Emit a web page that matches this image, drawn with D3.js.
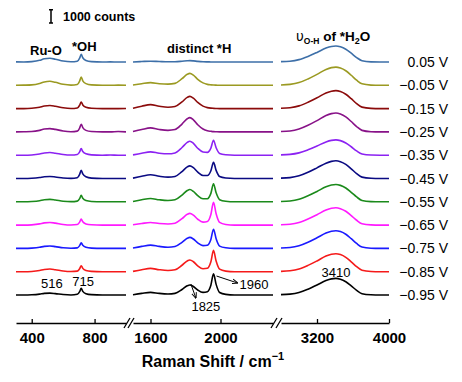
<!DOCTYPE html>
<html>
  <head>
    <meta charset="utf-8">
    <title>Raman spectra vs potential</title>
    <script src="https://cdn.jsdelivr.net/npm/d3@7"></script>
    <style>
      body { margin: 0; background: #fff; }
      svg text { font-family: "Liberation Sans", Arial, sans-serif; fill: #000; }
      .tick text { font-size: 15px; font-weight: bold; }
      .bold { font-weight: bold; }
    </style>
  </head>
  <body>
    <div id="chart"></div>
    <script>
      // potentials, top to bottom
      var voltages = ["0.05 V", "\u22120.05 V", "\u22120.15 V", "\u22120.25 V", "\u22120.35 V",
        "\u22120.45 V", "\u22120.55 V", "\u22120.65 V", "\u22120.75 V", "\u22120.85 V", "\u22120.95 V"];

      // wavenumbers (cm-1) sampled in each axis segment
      var wnLow = [300, 350, 400, 450, 480, 516, 550, 600, 650, 690, 705, 715, 725, 745, 780, 850, 900, 950, 1000];
      var wnMid = [1500, 1550, 1600, 1650, 1700, 1740, 1780, 1810, 1825, 1845, 1870, 1900, 1925, 1945, 1960, 1975, 1995, 2030, 2080, 2150, 2225, 2300];
      var wnHigh = [2800, 2900, 3000, 3100, 3200, 3300, 3360, 3410, 3460, 3520, 3580, 3640, 3700, 3800, 3900, 4000];

      // intensities above each trace's baseline (counts), one row per potential
      var lowCounts = [
        [10, 0, 30, 125, 240, 280, 210, 70, 15, 60, 290, 580, 320, 115, 30, 0, 10, 0, 0],
        [0, 10, 30, 135, 255, 300, 225, 75, 15, 60, 310, 620, 340, 125, 30, 0, 0, 10, 0],
        [0, 0, 25, 105, 195, 230, 175, 60, 10, 50, 250, 500, 275, 100, 25, 0, 0, 0, 10],
        [0, 10, 25, 115, 215, 250, 190, 65, 15, 60, 290, 580, 320, 115, 30, 0, 0, 30, 0],
        [0, 0, 20, 90, 170, 200, 150, 50, 10, 50, 250, 500, 275, 100, 25, 0, 10, 0, 0],
        [0, 0, 15, 70, 130, 150, 115, 40, 10, 60, 310, 620, 340, 125, 30, 0, 0, 0, 0],
        [0, 0, 20, 80, 155, 180, 135, 45, 10, 50, 240, 480, 265, 95, 25, 0, 0, 0, 0],
        [0, 0, 20, 90, 170, 200, 150, 50, 10, 45, 225, 450, 250, 90, 25, 0, 0, 0, 0],
        [0, 0, 20, 80, 155, 180, 135, 45, 10, 40, 210, 420, 230, 85, 20, 0, 0, 0, 0],
        [0, 0, 20, 90, 170, 200, 150, 50, 10, 45, 225, 450, 250, 90, 25, 0, 0, 0, 0],
        [0, 0, 15, 65, 120, 140, 105, 35, 5, 50, 250, 500, 275, 100, 25, 0, 0, 0, 0]
      ];
      var midCounts = [
        [5, 35, 60, 35, 15, 20, 55, 90, 100, 85, 50, 20, 10, 5, 0, 0, 0, 0, 0, 0, 0, 0],
        [20, 120, 200, 120, 85, 145, 495, 830, 900, 765, 450, 180, 70, 35, 20, 10, 0, 0, 0, 0, 0, 0],
        [30, 180, 300, 180, 105, 155, 505, 845, 920, 780, 460, 185, 75, 35, 20, 10, 0, 0, 0, 0, 0, 0],
        [30, 180, 300, 180, 115, 175, 590, 985, 1070, 910, 535, 215, 85, 45, 20, 10, 0, 0, 0, 0, 0, 0],
        [25, 150, 250, 150, 105, 170, 580, 965, 1050, 895, 525, 245, 215, 535, 1120, 560, 130, 35, 0, 0, 0, 0],
        [30, 170, 280, 170, 105, 155, 525, 875, 950, 810, 475, 225, 220, 580, 1220, 610, 145, 35, 0, 0, 0, 0],
        [25, 150, 250, 150, 95, 150, 505, 845, 920, 780, 460, 225, 235, 635, 1350, 675, 160, 40, 0, 0, 0, 0],
        [20, 120, 200, 120, 85, 140, 485, 810, 880, 750, 440, 225, 275, 800, 1720, 860, 205, 50, 0, 0, 0, 0],
        [25, 150, 250, 150, 90, 140, 455, 765, 830, 705, 415, 210, 240, 675, 1445, 725, 170, 45, 0, 0, 0, 0],
        [25, 150, 250, 150, 95, 145, 485, 810, 880, 750, 440, 225, 260, 745, 1600, 800, 190, 45, 0, 0, 0, 0],
        [20, 120, 200, 120, 80, 125, 415, 690, 750, 640, 375, 195, 250, 740, 1595, 800, 190, 45, 0, 0, 0, 0]
      ];
      var highCounts = [
        [25, 60, 180, 420, 720, 1045, 1165, 1200, 1140, 960, 660, 335, 95, 10, 0, 0],
        [25, 70, 205, 480, 820, 1190, 1330, 1370, 1300, 1095, 755, 385, 110, 15, 0, 0],
        [25, 70, 205, 475, 810, 1175, 1310, 1350, 1285, 1080, 745, 380, 110, 15, 0, 0],
        [30, 70, 215, 495, 850, 1235, 1375, 1420, 1350, 1135, 780, 400, 115, 15, 0, 0],
        [25, 60, 175, 405, 690, 1000, 1115, 1150, 1095, 920, 635, 320, 90, 10, 0, 0],
        [25, 65, 200, 465, 800, 1155, 1290, 1330, 1265, 1065, 730, 370, 105, 15, 0, 0],
        [25, 65, 195, 455, 780, 1130, 1260, 1300, 1235, 1040, 715, 365, 105, 15, 0, 0],
        [25, 65, 195, 455, 780, 1130, 1260, 1300, 1235, 1040, 715, 365, 105, 15, 0, 0],
        [25, 65, 200, 465, 800, 1155, 1290, 1330, 1265, 1065, 730, 370, 105, 15, 0, 0],
        [25, 70, 205, 475, 810, 1175, 1310, 1350, 1285, 1080, 745, 380, 110, 15, 0, 0],
        [25, 65, 190, 440, 750, 1090, 1215, 1250, 1190, 1000, 690, 350, 100, 15, 0, 0]
      ];

      var lowTicks = [400, 800];
      var midTicks = [1600, 2000];
      var highTicks = [3200, 4000];

      var colors = ["#3d6fa8", "#9b9a22", "#8b0b0b", "#881288", "#8c22f2", "#0a0a82",
        "#1b8a1b", "#ff1aff", "#1a1aff", "#f51a1a", "#000000"];

      var width = 462, height = 382, axisY = 323;

      var svg = d3.select("#chart").append("svg")
        .attr("width", width)
        .attr("height", height);

      // three broken x segments
      var xLow = d3.scaleLinear().domain([300, 1000]).range([16, 126]);
      var xMid = d3.scaleLinear().domain([1500, 2300]).range([133, 273]);
      var xHigh = d3.scaleLinear().domain([2800, 4000]).range([281, 389]);

      // baselines of the stacked traces + counts -> pixel offset
      var yBase = d3.scalePoint().domain(voltages).range([62, 295]);
      var yCount = d3.scaleLinear().domain([0, 1000]).range([0, -13.3]);
      var color = d3.scaleOrdinal().domain(voltages).range(colors);

      var segments = [
        {x: xLow, wn: wnLow, counts: lowCounts, ticks: lowTicks},
        {x: xMid, wn: wnMid, counts: midCounts, ticks: midTicks},
        {x: xHigh, wn: wnHigh, counts: highCounts, ticks: highTicks}
      ];

      segments.forEach(function(seg) {
        voltages.forEach(function(v, i) {
          var line = d3.line()
            .x(function(d, j) { return seg.x(seg.wn[j]); })
            .y(function(d) { return yBase(v) + yCount(d); })
            .curve(d3.curveMonotoneX);
          svg.append("path")
            .datum(seg.counts[i])
            .attr("d", line)
            .attr("fill", "none")
            .attr("stroke", color(v))
            .attr("stroke-width", 1.6)
            .attr("stroke-linejoin", "round");
        });

        svg.append("g")
          .attr("transform", "translate(0," + axisY + ")")
          .call(d3.axisBottom(seg.x)
            .tickValues(seg.ticks)
            .tickFormat(d3.format("d"))
            .tickSizeInner(-4)
            .tickSizeOuter(0)
            .tickPadding(9))
          .call(function(g) {
            g.select(".domain").attr("stroke-width", 1.3);
            g.selectAll(".tick line").attr("stroke-width", 1.3);
          });
      });

      // axis break marks
      [xLow.range()[1] + 1, xMid.range()[0] - 2, xMid.range()[1] + 1, xHigh.range()[0] - 2].forEach(function(bx) {
        svg.append("line")
          .attr("x1", bx - 3).attr("y1", axisY + 5)
          .attr("x2", bx + 3).attr("y2", axisY - 5)
          .attr("stroke", "#000").attr("stroke-width", 1.3);
      });

      // axis title
      var title = svg.append("text")
        .attr("class", "bold")
        .attr("x", 213).attr("y", 367)
        .attr("text-anchor", "middle")
        .style("font-size", "16px");
      title.append("tspan").text("Raman Shift / cm");
      title.append("tspan").attr("dy", -7).style("font-size", "11px").text("\u22121");

      // potential labels
      svg.selectAll(".vlabel")
        .data(voltages)
        .enter().append("text")
        .attr("x", 448)
        .attr("y", function(d) { return yBase(d); })
        .attr("dy", "0.36em")
        .attr("text-anchor", "end")
        .style("font-size", "14px")
        .text(function(d) { return d; });

      // scale bar: 1000 counts
      var barX = 51, barBottom = 23;
      var barTop = barBottom + yCount(1000);
      svg.append("path")
        .attr("d", "M" + (barX - 2) + "," + barTop + "H" + (barX + 2) +
          "M" + barX + "," + barTop + "V" + barBottom +
          "M" + (barX - 2) + "," + barBottom + "H" + (barX + 2))
        .attr("stroke", "#000").attr("stroke-width", 1.5).attr("fill", "none");
      svg.append("text").attr("class", "bold")
        .attr("x", 63).attr("y", 21)
        .style("font-size", "12.5px")
        .text("1000 counts");

      // band labels
      svg.append("text").attr("class", "bold").attr("x", 30).attr("y", 55)
        .style("font-size", "13px").text("Ru-O");
      svg.append("text").attr("class", "bold").attr("x", 72).attr("y", 51)
        .style("font-size", "13px").text("*OH");
      svg.append("text").attr("class", "bold").attr("x", 167).attr("y", 53)
        .style("font-size", "13px").text("distinct *H");
      var nu = svg.append("text").attr("class", "bold").attr("x", 296).attr("y", 41)
        .style("font-size", "13.5px");
      nu.append("tspan").style("font-family", "'DejaVu Sans', sans-serif").style("font-weight", "normal").text("\u03c5");
      nu.append("tspan").attr("dy", 3).style("font-size", "8.5px").text("O-H");
      nu.append("tspan").attr("dy", -3).text(" of *H");
      nu.append("tspan").attr("dy", 3).style("font-size", "9px").text("2");
      nu.append("tspan").attr("dy", -3).text("O");

      // peak annotations on the lowest trace
      var last = voltages[voltages.length - 1];
      svg.append("defs").append("marker")
        .attr("id", "arrow")
        .attr("viewBox", "0 0 10 10")
        .attr("refX", 9).attr("refY", 5)
        .attr("markerWidth", 6).attr("markerHeight", 6)
        .attr("orient", "auto")
        .append("path").attr("d", "M0,1L10,5L0,9").attr("fill", "none").attr("stroke", "#000").attr("stroke-width", 1.6);

      svg.append("text").attr("x", xLow(516) + 2).attr("y", yBase(last) - 7)
        .attr("text-anchor", "middle").style("font-size", "13px").text("516");
      svg.append("text").attr("x", xLow(715) + 2).attr("y", yBase(last) - 9)
        .attr("text-anchor", "middle").style("font-size", "13px").text("715");
      svg.append("text").attr("x", xHigh(3410)).attr("y", yBase(last) - 18)
        .attr("text-anchor", "middle").style("font-size", "13px").text("3410");
      svg.append("text").attr("x", xMid(1825) + 16).attr("y", yBase(last) + 16)
        .attr("text-anchor", "middle").style("font-size", "13px").text("1825");
      svg.append("text").attr("x", xMid(1960) + 26).attr("y", yBase(last) - 6)
        .style("font-size", "13px").text("1960");

      svg.append("line")
        .attr("x1", xMid(1825) + 1).attr("y1", yBase(last) - 11)
        .attr("x2", xMid(1825) + 6).attr("y2", yBase(last) + 3)
        .attr("stroke", "#000").attr("stroke-width", 1)
        .attr("marker-end", "url(#arrow)");
      svg.append("line")
        .attr("x1", xMid(1960) + 3).attr("y1", yBase(last) - 19)
        .attr("x2", xMid(1960) + 24).attr("y2", yBase(last) - 12)
        .attr("stroke", "#000").attr("stroke-width", 1)
        .attr("marker-end", "url(#arrow)");
    </script>
  </body>
</html>
